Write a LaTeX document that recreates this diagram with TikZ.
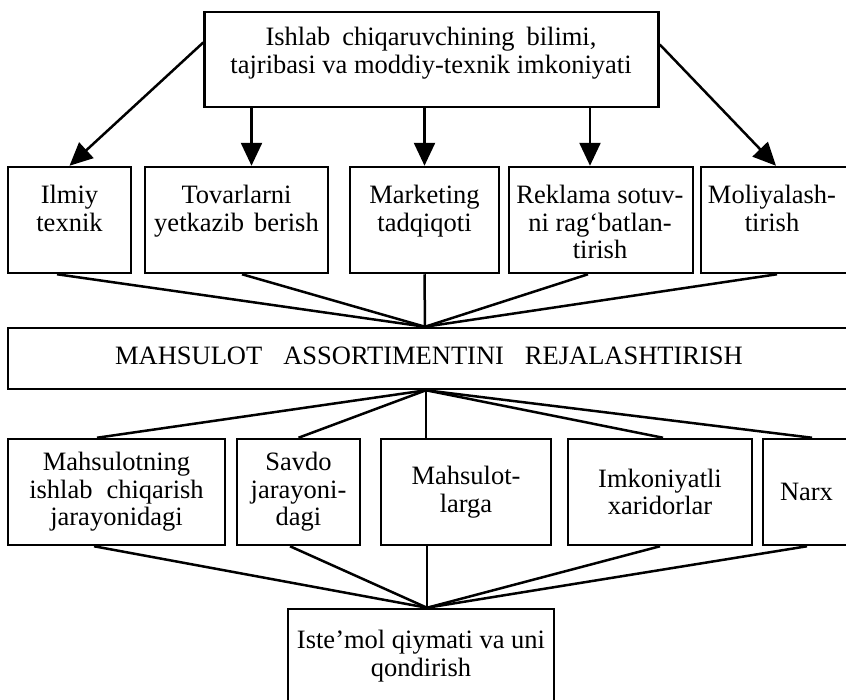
\documentclass[tikz,border=0pt]{standalone}
\usepackage{fontspec}
\setmainfont{Liberation Serif}
\usetikzlibrary{arrows.meta}
\begin{document}
\begin{tikzpicture}[x=1pt,y=-1pt,
  box/.style={draw,line width=2.5pt,inner sep=0pt},
  txt/.style={font=\fontsize{26.5}{27.5}\selectfont,align=center,inner sep=0pt},
  conn/.style={line width=2.5pt},
  arr/.style={line width=2.5pt,-{Triangle[length=23pt,width=21pt]}}]
\useasboundingbox (0,0) rectangle (846,699);
\clip (0,0) rectangle (846,699);
\fill[white] (0,0) rectangle (846,699);
% top box
\node[box,minimum width=454pt,minimum height=95pt] (top) at (431.5,59.5) {};
\node[txt,anchor=north] (toptxt) at (431,27) {Ishlab\hspace{12pt}chiqaruvchining\hspace{12pt}bilimi,\\tajribasi va moddiy-texnik imkoniyati};
% row 1
\node[box,minimum width=123pt,minimum height=106pt] (r1a) at (69.5,220) {};
\node[box,minimum width=183pt,minimum height=106pt] (r1b) at (236.5,220) {};
\node[box,minimum width=149pt,minimum height=106pt] (r1c) at (424.5,220) {};
\node[box,minimum width=184pt,minimum height=106pt] (r1d) at (601,220) {};
\node[box,minimum width=150pt,minimum height=106pt] (r1e) at (776,220) {};
\node[txt,anchor=north] (t1a) at (69.5,185) {Ilmiy\\texnik};
\node[txt,anchor=north] (t1b) at (236.5,185) {Tovarlarni\\yetkazib\hspace{10pt}berish};
\node[txt,anchor=north] (t1c) at (424.5,185) {Marketing\\tadqiqoti};
\node[txt,anchor=north] (t1d) at (600,185) {Reklama sotuv-\\ni rag‘batlan-\\tirish};
\node[txt,anchor=north] (t1e) at (772,185) {Moliyalash-\\tirish};
% middle box
\node[box,minimum width=844pt,minimum height=61pt] (mid) at (430,358.5) {};
\node[txt] (midtxt) at (429,355.5) {MAHSULOT\hspace{21pt}ASSORTIMENTINI\hspace{21pt}REJALASHTIRISH};
% row 2
\node[box,txt,minimum width=217pt,minimum height=106pt] (r2a) at (116.5,492) {Mahsulotning\\ishlab\hspace{14pt}chiqarish\\jarayonidagi};
\node[box,txt,minimum width=123pt,minimum height=106pt] (r2b) at (298.5,492) {Savdo\\jarayoni-\\dagi};
\node[box,txt,minimum width=170pt,minimum height=106pt] (r2c) at (466,492) {Mahsulot-\\larga};
\node[box,txt,minimum width=184pt,minimum height=106pt] (r2d) at (660,492) {Imkoniyatli\\xaridorlar};
\node[box,txt,minimum width=87pt,minimum height=106pt] (r2e) at (806.5,492) {Narx};
% bottom box
\node[box,minimum width=266pt,minimum height=121pt] (bot) at (421,669.5) {};
\node[txt,anchor=north] (bottxt) at (421,630) {Iste’mol qiymati va uni\\qondirish};
% arrows from top
\coordinate (a2) at ([xshift=15pt]r1b.north);
\coordinate (a4) at ([xshift=-11pt]r1d.north);
\draw[arr] ([yshift=17pt]top.west) -- (r1a.north);
\draw[arr] ([yshift=15pt]top.east) -- (r1e.north);
\draw[arr] (a2 |- top.south) -- (a2);
\draw[arr] (r1c.north |- top.south) -- (r1c.north);
\draw[arr] (a4 |- top.south) -- (a4);
% row 1 to middle
\coordinate (mt) at ([xshift=-5pt]mid.north);
\draw[conn] ([xshift=-12.5pt]r1a.south) -- (mt);
\draw[conn] ([xshift=5.5pt]r1b.south) -- (mt);
\draw[conn] (r1c.south) -- (mt);
\draw[conn] ([xshift=-13pt]r1d.south) -- (mt);
\draw[conn] ([xshift=1pt]r1e.south) -- (mt);
% middle to row 2
\coordinate (mb) at ([xshift=-4pt]mid.south);
\draw[conn] (mb) -- ([xshift=-19.5pt]r2a.north);
\draw[conn] (mb) -- (r2b.north);
\draw[conn] (mb) -- ([xshift=-40pt]r2c.north);
\draw[conn] (mb) -- ([xshift=3pt]r2d.north);
\draw[conn] (mb) -- ([xshift=5.5pt]r2e.north);
% row 2 to bottom
\coordinate (bt) at ([xshift=6pt]bot.north);
\draw[conn] ([xshift=-22.5pt]r2a.south) -- (bt);
\draw[conn] ([xshift=-8.5pt]r2b.south) -- (bt);
\draw[conn] ([xshift=-39pt]r2c.south) -- (bt);
\draw[conn] (r2d.south) -- (bt);
\draw[conn] ([xshift=0.5pt]r2e.south) -- (bt);
\end{tikzpicture}
\end{document}
